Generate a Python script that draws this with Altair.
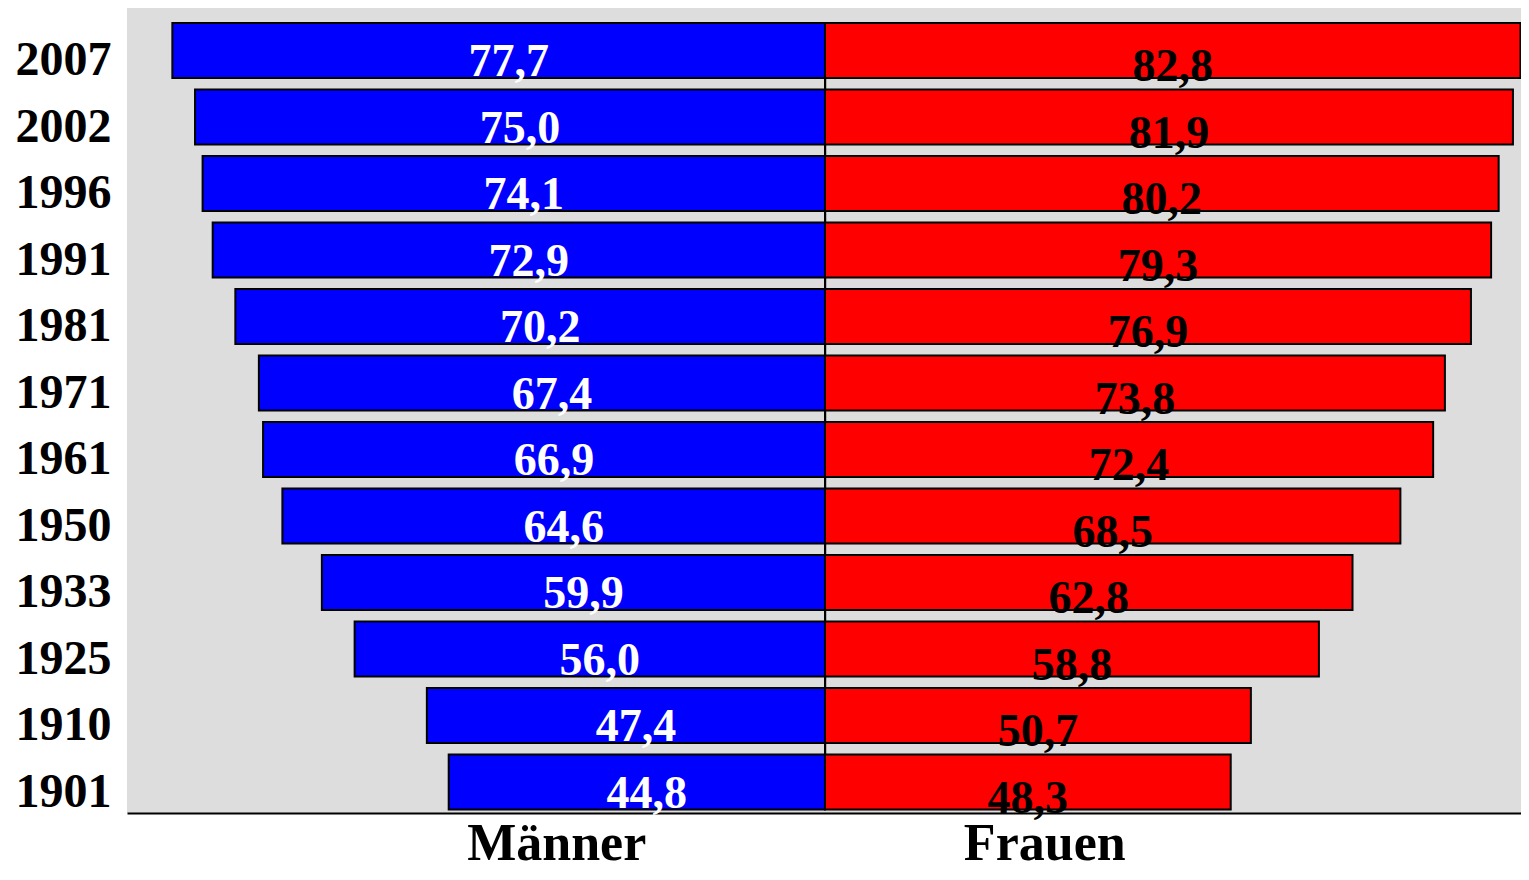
import altair as alt
import pandas as pd

years = ["2007", "2002", "1996", "1991", "1981", "1971", "1961", "1950", "1933", "1925", "1910", "1901"]
men = [77.7, 75.0, 74.1, 72.9, 70.2, 67.4, 66.9, 64.6, 59.9, 56.0, 47.4, 44.8]
women = [82.8, 81.9, 80.2, 79.3, 76.9, 73.8, 72.4, 68.5, 62.8, 58.8, 50.7, 48.3]
group_labels = ["Männer", "Frauen"]
group_label_pos = [-32.0, 26.1]

rows = []
for y, m, w in zip(years, men, women):
    rows.append({"year": y, "sex": "Männer", "v": -m, "mid": -m / 2, "label": f"{m:.1f}".replace(".", ",")})
    rows.append({"year": y, "sex": "Frauen", "v": w, "mid": w / 2, "label": f"{w:.1f}".replace(".", ",")})
df = pd.DataFrame(rows)

FONT = "Liberation Serif"
W, H = 1394, 805
xscale = alt.Scale(domain=[-83.1, 82.86], nice=False, zero=False)
yscale = alt.Scale(domain=years, paddingInner=0.173, paddingOuter=0.139, align=0.81)

label_expr = f"datum.value < 0 ? '{group_labels[0]}' : '{group_labels[1]}'"

base = alt.Chart(df)

bars = base.mark_bar(stroke="black", strokeWidth=2).encode(
    x=alt.X("v:Q", scale=xscale,
            axis=alt.Axis(values=group_label_pos, labelExpr=label_expr, title=None,
                          grid=False, ticks=False, tickSize=0, domain=True,
                          domainColor="black", domainWidth=2,
                          labelFont=FONT, labelFontSize=52, labelFontWeight="bold",
                          labelColor="black", labelBaseline="alphabetic",
                          labelPadding=46, labelFlush=False, labelOverlap=False,
                          labelLimit=0)),
    x2=alt.datum(0),
    y=alt.Y("year:N", scale=yscale, sort=years,
            axis=alt.Axis(title=None, ticks=False, tickSize=0, domain=False, grid=False,
                          labelFont=FONT, labelFontSize=48, labelFontWeight="bold",
                          labelColor="black", labelBaseline="alphabetic",
                          labelOffset=25, labelPadding=16, labelAlign="right",
                          labelLimit=0)),
    color=alt.Color("sex:N", scale=alt.Scale(domain=["Männer", "Frauen"], range=["#0000FF", "#FF0000"]),
                    legend=None),
)

men_text = base.transform_filter(alt.datum.sex == "Männer").mark_text(
    font=FONT, fontSize=46, fontWeight="bold", color="white", baseline="alphabetic", dy=26, dx=10
).encode(x=alt.X("mid:Q", scale=xscale), y=alt.Y("year:N", scale=yscale, sort=years), text="label:N")

women_text = base.transform_filter(alt.datum.sex == "Frauen").mark_text(
    font=FONT, fontSize=46, fontWeight="bold", color="black", baseline="alphabetic", dy=31
).encode(x=alt.X("mid:Q", scale=xscale), y=alt.Y("year:N", scale=yscale, sort=years), text="label:N")

center = alt.Chart(df).mark_rule(color="black", strokeWidth=2).encode(
    x=alt.datum(0), y=alt.datum(years[0]), y2=alt.datum(years[-1])
)

chart = alt.layer(center, bars, men_text, women_text).properties(
    width=W, height=H,
    autosize=alt.AutoSizeParams(type="none"),
    padding={"left": 119, "top": 0, "right": 0, "bottom": 58},
).configure_view(fill="#DDDDDD", stroke=None)

chart.save("out.html", embed_options={"renderer": "svg", "actions": False})
